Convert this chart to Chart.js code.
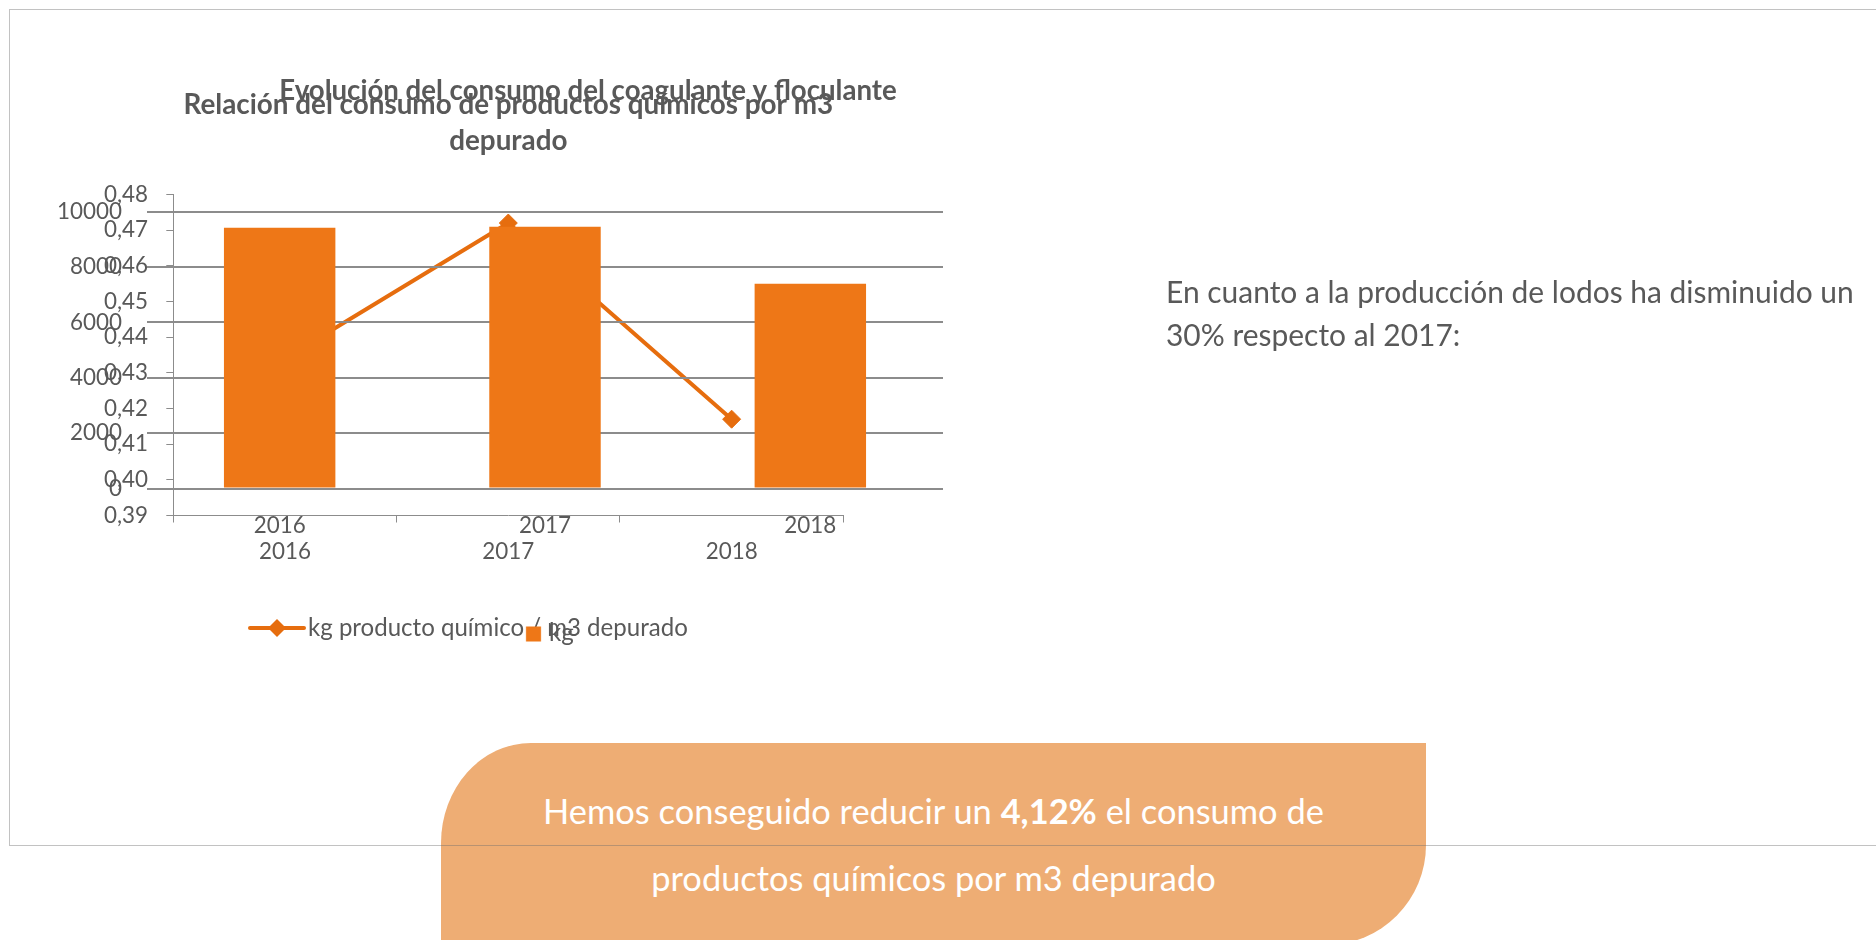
<!DOCTYPE html>
<html>
<head>
<meta charset="utf-8">
<script src="https://cdn.jsdelivr.net/npm/chart.js@4.4.1/dist/chart.umd.min.js"></script>
<style>
  html, body { margin:0; padding:0; background:#fff; width:1876px; height:940px; overflow:hidden; font-family: Lato, sans-serif; }
  canvas { position:absolute; left:0; top:0; }
  #cA { z-index:1; }
  #cB { z-index:2; }
  #frame { position:absolute; left:9px; top:9px; width:1900px; height:837px; box-sizing:border-box;
           border:1px solid rgba(110,110,110,0.42); border-right:none; z-index:6; pointer-events:none; }
  #box { position:absolute; left:441px; top:743px; width:985px; height:202px; background:#EEAD74;
         border-radius: 90px 0 100px 0 / 100px 0 100px 0; z-index:4; }
  .ln { position:absolute; white-space:nowrap; z-index:5; }
  .gray { color:#595959; }
  .white { color:#fff; }
</style>
</head>
<body>
<div id="frame"></div>
<canvas id="cA" width="900" height="700"></canvas>
<canvas id="cB" width="1176" height="700"></canvas>
<div id="box"></div>
<div class="ln gray" id="r1">En cuanto a la producción de lodos ha disminuido un</div>
<div class="ln gray" id="r2">30% respecto al 2017:</div>
<div class="ln white" id="b1">Hemos conseguido reducir un <b>4,12%</b> el consumo de</div>
<div class="ln white" id="b2">productos químicos por m3 depurado</div>
<script>
// ---------- DATA ----------
const categories = ['2016', '2017', '2018'];
const kgValues = [9420, 9460, 7400];
const ratioValues = [0.434, 0.472, 0.417];
const kgTickLabels = ['0', '2000', '4000', '6000', '8000', '10000'];
const ratioTickLabels = ['0,39', '0,40', '0,41', '0,42', '0,43', '0,44', '0,45', '0,46', '0,47', '0,48'];
const titleBar = 'Evolución del consumo del coagulante y floculante';
const titleLine = ['Relación del consumo de productos químicos por m3', 'depurado'];
const legendLine = 'kg producto químico / m3 depurado';
const legendBar = 'kg';

// ---------- STYLE / LAYOUT ----------
const FAMILY = 'Lato';
const GRAY = '#595959';
const AXIS = '#8c8c8c';
const BAR_COLOR = '#EE7717';
const LINE_COLOR = '#E66D0E';

const mctx = document.createElement('canvas').getContext('2d');
function textW(txt, weight, size) { mctx.font = weight + ' ' + size + 'px ' + FAMILY; return mctx.measureText(txt).width; }
function fit(txt, weight, target) { return target / textW(txt, weight, 100) * 100; }

const fsTick = fit('10000', 'normal', 65);
const fsLegend = fit(legendLine, 'normal', 380);
const fsTitleB = fit(titleBar, 'bold', 618);
const fsTitleA = fit(titleLine[0], 'bold', 650);
const lhTick = fsTick * 1.2;
const legPad = 10;

Chart.defaults.font.family = FAMILY;
Chart.defaults.color = GRAY;

// chart areas (page px)
const A = { left: 173.3, right: 843.3, top: 194.5, bottom: 515.5 };
const B = { left: 147, right: 943, top: 211.7, bottom: 488.5 };

// ---------- Chart A (line) ----------
const WA = 900, HA = 700;
const legA_tx = 308, legA_cx = 277, legA_y = 628;
const boxWA = 2 * (legA_tx - fsLegend / 2 - legA_cx);
const x0A = legA_cx - boxWA / 2;
const twA = textW(legendLine, 'normal', fsLegend);
const itemWA = boxWA + fsLegend / 2 + twA;
const plA = 2 * (x0A + itemWA / 2) - A.right;
const hxA = legA_y - legPad - fsLegend / 2 - A.bottom;
const legHA = fsLegend + legPad + 10;
const pbA = HA - (A.bottom + hxA + legHA);

const imgA = document.createElement('canvas');
imgA.width = 60; imgA.height = 24;
(function () {
  const c = imgA.getContext('2d');
  c.strokeStyle = LINE_COLOR; c.lineWidth = 4; c.lineCap = 'round';
  c.beginPath(); c.moveTo(3, 12); c.lineTo(57, 12); c.stroke();
  c.fillStyle = LINE_COLOR;
  c.beginPath(); c.moveTo(30, 3); c.lineTo(39, 12); c.lineTo(30, 21); c.lineTo(21, 12); c.closePath(); c.fill();
})();

new Chart(document.getElementById('cA'), {
  type: 'line',
  data: {
    labels: categories,
    datasets: [{
      label: legendLine,
      data: ratioValues,
      borderColor: LINE_COLOR,
      backgroundColor: LINE_COLOR,
      borderWidth: 4,
      tension: 0,
      pointStyle: 'rectRot',
      pointRadius: 9,
      pointBorderWidth: 1,
      clip: false
    }]
  },
  options: {
    responsive: false,
    animation: false,
    layout: { padding: { left: plA, right: WA - A.right, top: 0, bottom: pbA } },
    scales: {
      x: {
        type: 'category',
        offset: true,
        grid: { offset: true, drawOnChartArea: false, drawTicks: true, tickLength: 7, color: AXIS, lineWidth: 1 },
        border: { display: true, color: AXIS, width: 1 },
        ticks: { padding: 552 - A.bottom - 7 - lhTick / 2, font: { size: fsTick }, color: GRAY, maxRotation: 0 },
        afterFit: s => { s.height = hxA; }
      },
      y: {
        min: 0.39, max: 0.48,
        grid: { drawOnChartArea: false, drawTicks: true, tickLength: 7, color: AXIS, lineWidth: 1 },
        border: { display: true, color: AXIS, width: 1 },
        ticks: { stepSize: 0.01, padding: A.left - 7 - 148, font: { size: fsTick }, color: GRAY,
                 callback: (v, i) => ratioTickLabels[i] },
        afterFit: s => { s.width = A.left - plA; }
      }
    },
    plugins: {
      tooltip: { enabled: false },
      title: {
        display: true, fullSize: false,
        text: titleLine,
        color: GRAY,
        font: { size: fsTitleA, weight: 'bold', lineHeight: 36 / fsTitleA },
        padding: { top: 105 - 18, bottom: A.top - (105 - 18) - 72 }
      },
      legend: {
        display: true, position: 'bottom',
        labels: { usePointStyle: true, pointStyle: imgA, pointStyleWidth: boxWA, padding: legPad,
                  font: { size: fsLegend }, color: GRAY }
      }
    }
  }
});

// ---------- Chart B (bars) ----------
const WB = 1176, HB = 700;
const legB_tx = 549, legB_y = 633, sqL = 526, sqR = 541;
const twB = textW(legendBar, 'normal', fsLegend);
const boxWB = 2 * (legB_tx - 545) + twB - fsLegend / 2;
const itemWB = boxWB + fsLegend / 2 + twB;
const x0B = (B.left + B.right) / 2 - itemWB / 2;
const imgCB = x0B + boxWB / 2;
const halfB = Math.max(Math.abs(sqR - imgCB), Math.abs(sqL - imgCB)) + 2;
const imgB = document.createElement('canvas');
imgB.width = Math.ceil(2 * halfB); imgB.height = 20;
(function () {
  const c = imgB.getContext('2d');
  c.fillStyle = BAR_COLOR;
  const off = imgB.width / 2 - imgCB;
  c.fillRect(sqL + off, 10 - 7.5 + 1, sqR - sqL, 15);
})();
const hxB = legB_y - legPad - fsLegend / 2 - B.bottom;
const legHB = fsLegend + legPad + 10;
const pbB = HB - (B.bottom + hxB + legHB);
const lhTB = fsTitleB * 1.2;

new Chart(document.getElementById('cB'), {
  type: 'bar',
  data: {
    labels: categories,
    datasets: [{
      label: legendBar,
      data: kgValues,
      backgroundColor: BAR_COLOR,
      borderWidth: 0,
      barPercentage: 0.42,
      categoryPercentage: 1
    }]
  },
  options: {
    responsive: false,
    animation: false,
    layout: { padding: { left: 0, right: 0, top: 0, bottom: pbB } },
    scales: {
      x: {
        type: 'category',
        grid: { display: false },
        border: { display: false },
        ticks: { padding: 518 - B.bottom - lhTick / 2, font: { size: fsTick }, color: GRAY, maxRotation: 0 },
        afterFit: s => { s.height = hxB; }
      },
      y: {
        min: 0, max: 10000,
        grid: { color: AXIS, lineWidth: 2, drawTicks: false },
        border: { display: false },
        ticks: { stepSize: 2000, padding: B.left - 122, font: { size: fsTick }, color: GRAY,
                 callback: (v, i) => kgTickLabels[i] },
        afterFit: s => { s.width = B.left; }
      },
      yR: {
        type: 'linear', position: 'right', display: true,
        ticks: { display: false }, grid: { display: false }, border: { display: false },
        afterFit: s => { s.width = WB - B.right; }
      }
    },
    plugins: {
      tooltip: { enabled: false },
      title: {
        display: true, fullSize: true,
        text: titleBar,
        color: GRAY,
        font: { size: fsTitleB, weight: 'bold' },
        padding: { top: 91 - lhTB / 2, bottom: B.top - 91 - lhTB / 2 }
      },
      legend: {
        display: true, position: 'bottom', fullSize: false,
        labels: { usePointStyle: true, pointStyle: imgB, pointStyleWidth: boxWB, padding: legPad,
                  font: { size: fsLegend }, color: GRAY }
      }
    }
  }
});

// ---------- HTML text ----------
function place(id, size, cy, left, centerX) {
  const el = document.getElementById(id);
  const lh = Math.round(size * 1.3);
  el.style.fontSize = size + 'px';
  el.style.lineHeight = lh + 'px';
  el.style.top = (cy - lh / 2) + 'px';
  if (centerX !== undefined) {
    el.style.left = '0px';
    el.style.width = (2 * centerX) + 'px';
    el.style.textAlign = 'center';
  } else {
    el.style.left = left + 'px';
  }
}
const fsRight = fit('En cuanto a la producción de lodos ha disminuido un', 'normal', 688);
place('r1', fsRight, 291, 1166);
place('r2', fsRight, 334, 1166);
const w100 = textW('Hemos conseguido reducir un ', 'normal', 100) + textW('4,12%', 'bold', 100) + textW(' el consumo de', 'normal', 100);
const fsBox = 782 / w100 * 100;
place('b1', fsBox, 810, 0, 933.5);
place('b2', fsBox, 877, 0, 933.5);
</script>
</body>
</html>
